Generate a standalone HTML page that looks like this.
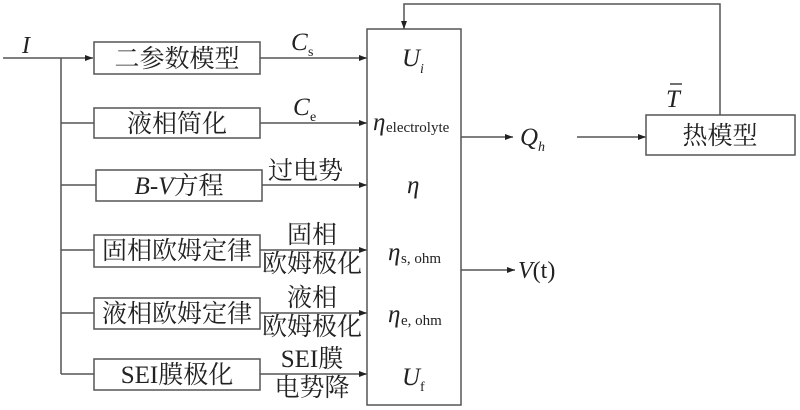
<!DOCTYPE html>
<html><head><meta charset="utf-8"><style>
body{margin:0;background:#fff}
svg{display:block}
text{font-family:"Liberation Serif","Noto Serif CJK SC",serif;fill:#222}
.cn{font-family:"Liberation Serif","Noto Serif CJK SC",serif;font-size:25px}
</style></head><body>
<svg width="800" height="410" viewBox="0 0 800 410" xmlns="http://www.w3.org/2000/svg">
<defs><marker id="a" markerWidth="8" markerHeight="6" refX="8" refY="3" orient="auto" markerUnits="userSpaceOnUse"><path d="M0,0L8,3L0,6z" fill="#222"/></marker></defs>
<g stroke="#555" stroke-width="1.5" fill="none">
<line x1="3" y1="58" x2="93" y2="58" marker-end="url(#a)"/>
<line x1="61" y1="58" x2="61" y2="374"/>
<line x1="61" y1="123" x2="94" y2="123"/>
<line x1="61" y1="185" x2="96" y2="185"/>
<line x1="61" y1="250" x2="94" y2="250"/>
<line x1="61" y1="313" x2="94" y2="313"/>
<line x1="61" y1="374" x2="94" y2="374"/>
<rect x="94" y="42" width="166" height="32"/>
<rect x="94" y="108" width="166" height="30"/>
<rect x="96" y="170" width="166" height="31"/>
<rect x="94" y="235" width="166" height="32"/>
<rect x="94" y="298" width="166" height="31"/>
<rect x="94" y="359" width="166" height="31"/>
<line x1="260" y1="58" x2="367" y2="58" marker-end="url(#a)"/>
<line x1="260" y1="123" x2="367" y2="123" marker-end="url(#a)"/>
<line x1="262" y1="185" x2="367" y2="185" marker-end="url(#a)"/>
<line x1="260" y1="250" x2="367" y2="250" marker-end="url(#a)"/>
<line x1="260" y1="313" x2="367" y2="313" marker-end="url(#a)"/>
<line x1="260" y1="374" x2="367" y2="374" marker-end="url(#a)"/>
<rect x="367" y="29" width="94" height="376"/>
<line x1="461" y1="137" x2="513" y2="137" marker-end="url(#a)"/>
<line x1="577" y1="137" x2="646" y2="137" marker-end="url(#a)"/>
<line x1="461" y1="270" x2="515" y2="270" marker-end="url(#a)"/>
<rect x="646" y="115" width="149" height="40"/>
<polyline points="720,115 720,4 404,4 404,29" marker-end="url(#a)"/>
</g>
<g font-size="22">
<text x="22" y="53" font-style="italic" font-size="24">I</text>
<text x="177" y="67" text-anchor="middle" class="cn">二参数模型</text>
<text x="177" y="132" text-anchor="middle" class="cn">液相简化</text>
<text x="179" y="194" text-anchor="middle" class="cn"><tspan font-style="italic">B</tspan>-<tspan font-style="italic">V</tspan>方程</text>
<text x="177" y="259" text-anchor="middle" class="cn">固相欧姆定律</text>
<text x="177" y="322" text-anchor="middle" class="cn">液相欧姆定律</text>
<text x="177" y="383" text-anchor="middle" class="cn">SEI膜极化</text>
<text x="291" y="50" font-style="italic" font-size="25">C</text><text x="308" y="56" font-size="14">s</text>
<text x="293" y="115" font-style="italic" font-size="25">C</text><text x="310" y="121" font-size="14">e</text>
<text x="268" y="179" class="cn">过电势</text>
<text x="312" y="243" text-anchor="middle" class="cn">固相</text>
<text x="312" y="272" text-anchor="middle" class="cn">欧姆极化</text>
<text x="312" y="306" text-anchor="middle" class="cn">液相</text>
<text x="312" y="335" text-anchor="middle" class="cn">欧姆极化</text>
<text x="312" y="367" text-anchor="middle" class="cn">SEI膜</text>
<text x="312" y="396" text-anchor="middle" class="cn">电势降</text>
<text x="402" y="66" font-style="italic" font-size="25">U</text><text x="420" y="73" font-style="italic" font-size="14">i</text>
<text x="373" y="130" font-style="italic" font-size="25">η</text><text x="386" y="132" font-size="15">electrolyte</text>
<text x="407" y="193" font-style="italic" font-size="25">η</text>
<text x="388" y="260" font-style="italic" font-size="25">η</text><text x="401" y="263" font-size="15">s, ohm</text>
<text x="388" y="322" font-style="italic" font-size="25">η</text><text x="401" y="325" font-size="15">e, ohm</text>
<text x="402" y="385" font-style="italic" font-size="25">U</text><text x="420" y="391" font-size="14">f</text>
<text x="520" y="145" font-style="italic" font-size="25">Q</text><text x="538" y="151" font-style="italic" font-size="14">h</text>
<text x="518" y="278" font-size="24"><tspan font-style="italic">V</tspan>(t)</text>
<text x="720" y="144" text-anchor="middle" class="cn">热模型</text>
<text x="666" y="107" font-style="italic" font-size="25">T</text>
</g>
<line x1="670" y1="84" x2="682" y2="84" stroke="#222" stroke-width="1.3"/>
</svg>
</body></html>
